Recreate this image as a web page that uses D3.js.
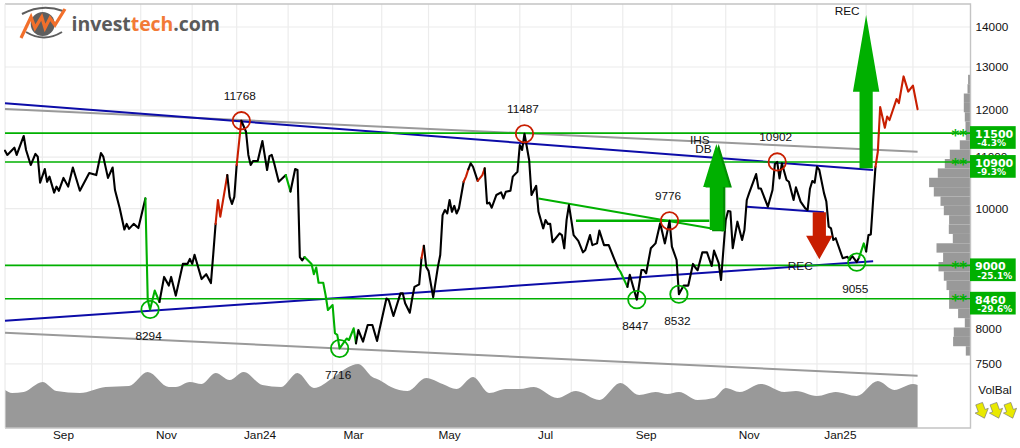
<!DOCTYPE html>
<html>
<head>
<meta charset="utf-8">
<title>Investtech chart</title>
<script src="https://cdn.jsdelivr.net/npm/d3@7/dist/d3.min.js"></script>
<style>
html,body{margin:0;padding:0;background:#fff;}
svg{display:block;}
text{font-family:"Liberation Sans",Arial,sans-serif;}
</style>
</head>
<body>
<svg id="chart" width="1020" height="448"></svg>
<script>
// Trading sessions and closing prices (sparse turning points of the daily close)
const sessions = [0,1,4,5,8,9,11,13,14,15,17,18,19,21,22,23,25,27,29,32,36,39,41,42,44,46,47,49,51,52,53,55,57,60,61,62,64,66,68,70,71,73,76,78,79,80,81,84,86,88,89,90,91,92,95,96,97,98,99,101,103,104,105,106,108,110,112,113,114,115,117,120,122,124,125,126,127,128,131,132,133,134,136,137,138,140,141,142,143,146,147,149,150,151,153,155,157,159,160,163,164,166,169,170,171,173,174,175,177,178,179,180,181,183,185,186,187,188,189,190,191,192,193,194,196,197,198,199,200,202,204,205,206,207,208,210,212,213,214,216,217,219,220,221,222,224,225,227,228,230,231,232,233,234,237,238,239,240,241,242,243,245,247,248,250,251,253,254,256,258,260,262,263,266,267,270,272,273,274,276,278,280,282,284,285,287,288,290,292,294,295,296,298,300,302,303,305,306,308,309,310,311,313,315,316,317,318,321,322,323,326,328,329,330,331,332,334,335,337,338,340,342,343,344,345,346,347,348,350,351,352,353,354,355,358,360,361,362,364,365,367,368,369,370,371,372,373,374,376,377,378,381,382,384,386,388,390];
const closes = [11133,11045,11195,11045,11440,11147,10840,11065,11010,10490,10760,10510,10610,10300,10415,10335,10585,10415,10790,10335,10680,10640,11085,11010,10585,10790,10350,10010,9620,9720,9630,9720,9645,10190,8440,8294,8590,8410,8810,8670,8810,8510,9025,9025,9110,9025,9180,8775,8855,8710,9190,9720,10160,9850,10640,10220,10085,10220,10840,11768,11530,11045,10840,10920,10920,11335,10741,11020,11045,10880,10510,10640,10320,10760,10741,9140,9085,9140,9025,8855,8965,8715,8715,8520,8286,8363,7937,7912,7716,7860,7838,8010,7790,7985,7815,8060,8060,7825,7985,8465,8441,8195,8545,8545,8390,8245,8465,8650,8690,9125,9335,8975,8910,8485,8975,9175,9880,9974,9910,10160,9940,10050,9910,10005,10510,10610,10755,10875,10805,10525,10640,10775,10095,10110,10015,10255,10305,10190,10315,10335,10610,10705,11250,11147,11487,10942,10255,10430,9940,9640,9791,9720,9720,9395,9550,9520,9290,9791,10065,9791,9520,9420,9220,9261,9520,9345,9375,9600,9345,9345,9145,8950,8895,8650,8845,8447,8924,8924,8870,9290,9375,9730,9375,9776,9320,9091,8532,8670,8670,9025,8965,8920,9220,9220,8990,9250,9040,8760,9791,9955,9945,9290,9760,9434,9611,10160,10290,10660,10380,10380,10035,10350,10860,10902,10575,10875,10544,10510,10160,10400,10130,10005,9974,10375,10525,10490,10805,10741,10290,10130,9670,9640,9434,9465,9120,9145,9091,9160,9055,9135,9375,9235,9520,9530,10160,10805,11110,12070,11615,11860,11783,12250,12160,12775,12420,12560,12020];

// Session ranges where the close is coloured by the trend signal
const greenSpans = [[60,66],[120,122],[128,150],[262,266],[365,368]];
const redSpans = [[90,95],[99,101],[178,179],[196,198],[202,205],[372,390]];

// Volume balance curve
const volSessions = [0,3,8,16,22,32,43,53,61,70,73,79,84,90,96,102,110,118,125,132,140,146,151,157,160,165,172,180,187,193,200,207,214,220,226,236,244,254,263,271,278,283,288,296,303,308,314,323,333,338,347,355,364,373,380,388,390];
const volBalance = [38,35,36,46,37,35,41,42,56,41,41,46,44,55,48,56,43,41,55,40,50,60,64,51,48,41,37,50,44,39,51,35,39,39,41,30,37,28,45,33,36,34,36,28,30,40,36,44,36,37,32,36,32,47,38,44,43];

// Support and resistance levels with distance from the last close
const levelPrices = [11500,10900,9000,8460];
const levelChanges = ["-4.3%","-9.3%","-25.1%","-29.6%"];

// Price ticks and calendar
const priceTicks = [14000,13000,12000,11000,10000,9000,8000,7500];
const monthStarts = [16,37,58,80,99,121,140,161,181,201,220,242,264,285,308,329,347,368,388];
const monthNames = ["Sep","Nov","Jan24","Mar","May","Jul","Sep","Nov","Jan25"];
const monthNameSessions = [25,69,109,149,190,231,274,318,357];

// Marked highs and lows
const pivotSessions = [101,62,143,222,270,288,284,330,364];
const pivotPrices = [11768,8294,7716,11487,8447,8532,9776,10902,9055];
const pivotIsHigh = [true,false,false,true,false,false,true,true,false];

// Trend channels, as session/price end points
const blueLines = [[0,12154,371,10741],[0,8123,371,9069],[317,10035,350,9931]];
const greyLines = [[0,12025,390,11110],[0,7945,390,7336]];
const greenTrend = [228,10190,307,9600];
const necklineFrom = 244, necklineTo = 301, necklinePrice = 9776;

// Signal arrows: session, start price, tip price
const arrowData = [
  [305,9590,11270,"#008f00"],
  [304,9611,11270,"#00b000"],
  [368,10774,14315,"#00b000"],
  [348,9932,9103,"#c81e00"]
];
const patternTags = ["REC","REC","IHS","DB"];

// Price-volume histogram, one width per band from the top of the range down
const profileHigh = 12813, profileLow = 7615;
const profileWeights = [2.4,3,6.7,6.7,5.7,5,4.7,10.7,20.7,25.7,32.7,41.4,36.7,30,26.7,21.4,21.7,17.7,34,27.4,32,26.7,24,21.4,21.4,12.4,5.7,16.7,17.4,4.7];

const frame = {left:5, top:4, right:970.5, bottom:428};
const svg = d3.select("#chart");

const x = d3.scaleLinear().domain([0,390]).range([5,917.6]);
const y = d3.scaleLog().domain([7500,14000]).range([363.8,27]);
const vol = d3.scaleLinear().domain([0,65]).range([frame.bottom,frame.bottom-65]);
const profileW = d3.scaleLinear().domain([0,41.4]).range([0,41.4]);

const GREEN = "#00b000", RED = "#c81e00", NAVY = "#0c0ca8", GREY = "#999999";

// Grid
const grid = svg.append("g").attr("stroke","#ececec").attr("stroke-width",1.2);
grid.selectAll("line.h").data(priceTicks).join("line").attr("class","h")
  .attr("x1",frame.left).attr("x2",frame.right).attr("y1",d=>y(d)).attr("y2",d=>y(d));
grid.selectAll("line.v").data(monthStarts).join("line").attr("class","v")
  .attr("x1",d=>x(d)).attr("x2",d=>x(d)).attr("y1",frame.top).attr("y2",frame.bottom);

// Volume balance area
svg.append("path")
  .attr("fill",GREY)
  .attr("d",d3.area().x(d=>x(d[0])).y0(frame.bottom).y1(d=>vol(d[1])).curve(d3.curveMonotoneX)(d3.zip(volSessions,volBalance)));

// Price-volume histogram
const profileRatio = Math.pow(profileLow/profileHigh,1/profileWeights.length);
svg.append("g").attr("fill",GREY).selectAll("rect").data(profileWeights).join("rect")
  .attr("x",d=>frame.right-profileW(d))
  .attr("width",d=>profileW(d))
  .attr("y",(d,i)=>y(profileHigh*Math.pow(profileRatio,i)))
  .attr("height",(d,i)=>y(profileHigh*Math.pow(profileRatio,i+1))-y(profileHigh*Math.pow(profileRatio,i)));

// Frame
svg.append("path")
  .attr("d",`M${frame.left},${frame.top}H${frame.right}V${frame.bottom}H${frame.left}`)
  .attr("fill","none").attr("stroke","#c4c4c4").attr("stroke-width",1.4);
svg.append("line").attr("x1",frame.left).attr("x2",frame.left).attr("y1",frame.top).attr("y2",frame.bottom)
  .attr("stroke","#e6e6e6").attr("stroke-width",1);

// Price tick labels
svg.append("g").selectAll("text").data(priceTicks).join("text")
  .attr("x",975.5).attr("y",d=>y(d)+4.2)
  .attr("font-size",11.8).attr("fill","#111").text(d=>d);

// Month labels
svg.append("g").selectAll("text").data(monthNames).join("text")
  .attr("x",(d,i)=>x(monthNameSessions[i])).attr("y",439)
  .attr("text-anchor","middle").attr("font-size",11.8).attr("fill","#111").text(d=>d);

// Grey and blue trend channels
const segLine = (seg,color,w)=>svg.append("line")
  .attr("x1",x(seg[0])).attr("y1",y(seg[1])).attr("x2",x(seg[2])).attr("y2",y(seg[3]))
  .attr("stroke",color).attr("stroke-width",w);
greyLines.forEach(s=>segLine(s,"#9a9a9a",2));
blueLines.forEach(s=>segLine(s,NAVY,2));
segLine(greenTrend,GREEN,2);
segLine([necklineFrom,necklinePrice,necklineTo,necklinePrice],GREEN,2.6);

// Horizontal support/resistance levels
svg.append("g").selectAll("line").data(levelPrices).join("line")
  .attr("x1",frame.left).attr("x2",frame.right).attr("y1",d=>y(d)).attr("y2",d=>y(d))
  .attr("stroke",GREEN).attr("stroke-width",1.6);

// Close price, split into runs of one signal colour
const points = d3.zip(sessions,closes);
const priceLine = d3.line().x(d=>x(d[0])).y(d=>y(d[1]));
const inSpans = (spans,a,b)=>spans.some(s=>a>=s[0]&&b<=s[1]);
const segmentColor = (a,b)=>inSpans(greenSpans,a,b)?GREEN:inSpans(redSpans,a,b)?RED:"#000";
const runs = [];
d3.pairs(points).forEach(([p,q])=>{
  const c = segmentColor(p[0],q[0]);
  const last = runs[runs.length-1];
  if(last && last.color===c) last.pts.push(q); else runs.push({color:c,pts:[p,q]});
});
svg.append("g").selectAll("path").data(runs).join("path")
  .attr("d",d=>priceLine(d.pts))
  .attr("fill","none").attr("stroke",d=>d.color).attr("stroke-width",2.1)
  .attr("stroke-linejoin","round").attr("stroke-linecap","round");

// Signal arrows: the head takes up half of the arrow length
svg.append("g").selectAll("path").data(arrowData).join("path")
  .attr("d",d=>{
    const cx=x(d[0]), y0=y(d[1]), y1=y(d[2]), mid=(y0+y1)/2, hw=13.2, sw=6.6;
    return `M${cx-sw},${y0}L${cx-sw},${mid}L${cx-hw},${mid}L${cx},${y1}L${cx+hw},${mid}L${cx+sw},${mid}L${cx+sw},${y0}Z`;
  })
  .attr("fill",d=>d[3]);

// Rings around marked highs and lows
svg.append("g").selectAll("circle").data(pivotPrices).join("circle")
  .attr("cx",(d,i)=>x(pivotSessions[i])).attr("cy",d=>y(d)).attr("r",8.7)
  .attr("fill","none").attr("stroke-width",1.8)
  .attr("stroke",(d,i)=>pivotIsHigh[i]?RED:GREEN);

// Ring values, above highs and below lows
svg.append("g").selectAll("text").data(pivotPrices).join("text")
  .attr("x",(d,i)=>x(pivotSessions[i])-1.5)
  .attr("y",(d,i)=>y(d)+(pivotIsHigh[i]?-20.8:30.8))
  .attr("text-anchor","middle").attr("font-size",11.8).attr("fill","#111").text(d=>d);

// Pattern tags beside their arrows
const tagAnchors = [[368,14315,-19,0.2],[348,9103,-19,10.4],[304,11270,-16.5,0],[304,11270,-13,9]];
svg.append("g").selectAll("text").data(patternTags).join("text")
  .attr("x",(d,i)=>x(tagAnchors[i][0])+tagAnchors[i][2])
  .attr("y",(d,i)=>y(tagAnchors[i][1])+tagAnchors[i][3])
  .attr("text-anchor","middle").attr("font-size",11.8).attr("fill","#111").text(d=>d);

// Level badges with their double star marks
const badges = svg.append("g").selectAll("g").data(levelPrices).join("g")
  .attr("transform",d=>`translate(0,${y(d)})`);
badges.append("text").attr("x",951.5).attr("y",7.5)
  .style("font-family","'DejaVu Sans'").attr("font-size",15).attr("font-weight","bold").attr("fill",GREEN).text("**");
badges.append("rect").attr("x",970).attr("y",-7).attr("width",45.7).attr("height",22.7).attr("fill",GREEN);
badges.append("text").attr("x",975).attr("y",5)
  .style("font-family","'DejaVu Sans'").attr("font-weight","bold")
  .attr("font-size",11).attr("fill","#fff").text(d=>d);
badges.append("text").attr("x",977.3).attr("y",13.2)
  .style("font-family","'DejaVu Sans'").attr("font-weight","bold")
  .attr("font-size",9).attr("fill","#fff").text((d,i)=>levelChanges[i]);

// Volume balance rating
svg.append("text").attr("x",995).attr("y",394).attr("text-anchor","middle")
  .attr("font-size",11.8).attr("fill","#111").text("VolBal");
svg.append("g").selectAll("path").data([981.7,996,1010]).join("path")
  .attr("transform",d=>`translate(${d},410.7) rotate(-20)`)
  .attr("d","M-3.6,-7.5L3.6,-7.5L3.6,0L7,0L0,8L-7,0L-3.6,0Z")
  .attr("fill","#e9e900").attr("stroke","#777").attr("stroke-width",0.6);

// Logo
const logo = svg.append("g");
logo.append("circle").attr("cx",42.7).attr("cy",24).attr("r",12).attr("fill","#5e5e5e");
logo.append("path").attr("d","M22,14Q42,3 63,11").attr("fill","none").attr("stroke","#5e5e5e").attr("stroke-width",2);
logo.append("path").attr("d","M26,32Q44,43 62,32").attr("fill","none").attr("stroke","#5e5e5e").attr("stroke-width",2);
logo.append("path").attr("d","M21,38L31,17L35,28L41.7,17L45,28L50,18L55,25L65,9")
  .attr("fill","none").attr("stroke","#f26f2b").attr("stroke-width",3.2);
const brand = logo.append("text").attr("x",71.5).attr("y",31)
  .style("font-family","'Open Sans'").attr("font-weight",700).attr("font-size",19.5)
  .attr("textLength",148.5).attr("lengthAdjust","spacing");
brand.append("tspan").attr("fill","#5a5a5a").text("invest");
brand.append("tspan").attr("fill","#f27a36").text("tech");
brand.append("tspan").attr("fill","#5a5a5a").text(".com");
</script>
</body>
</html>
